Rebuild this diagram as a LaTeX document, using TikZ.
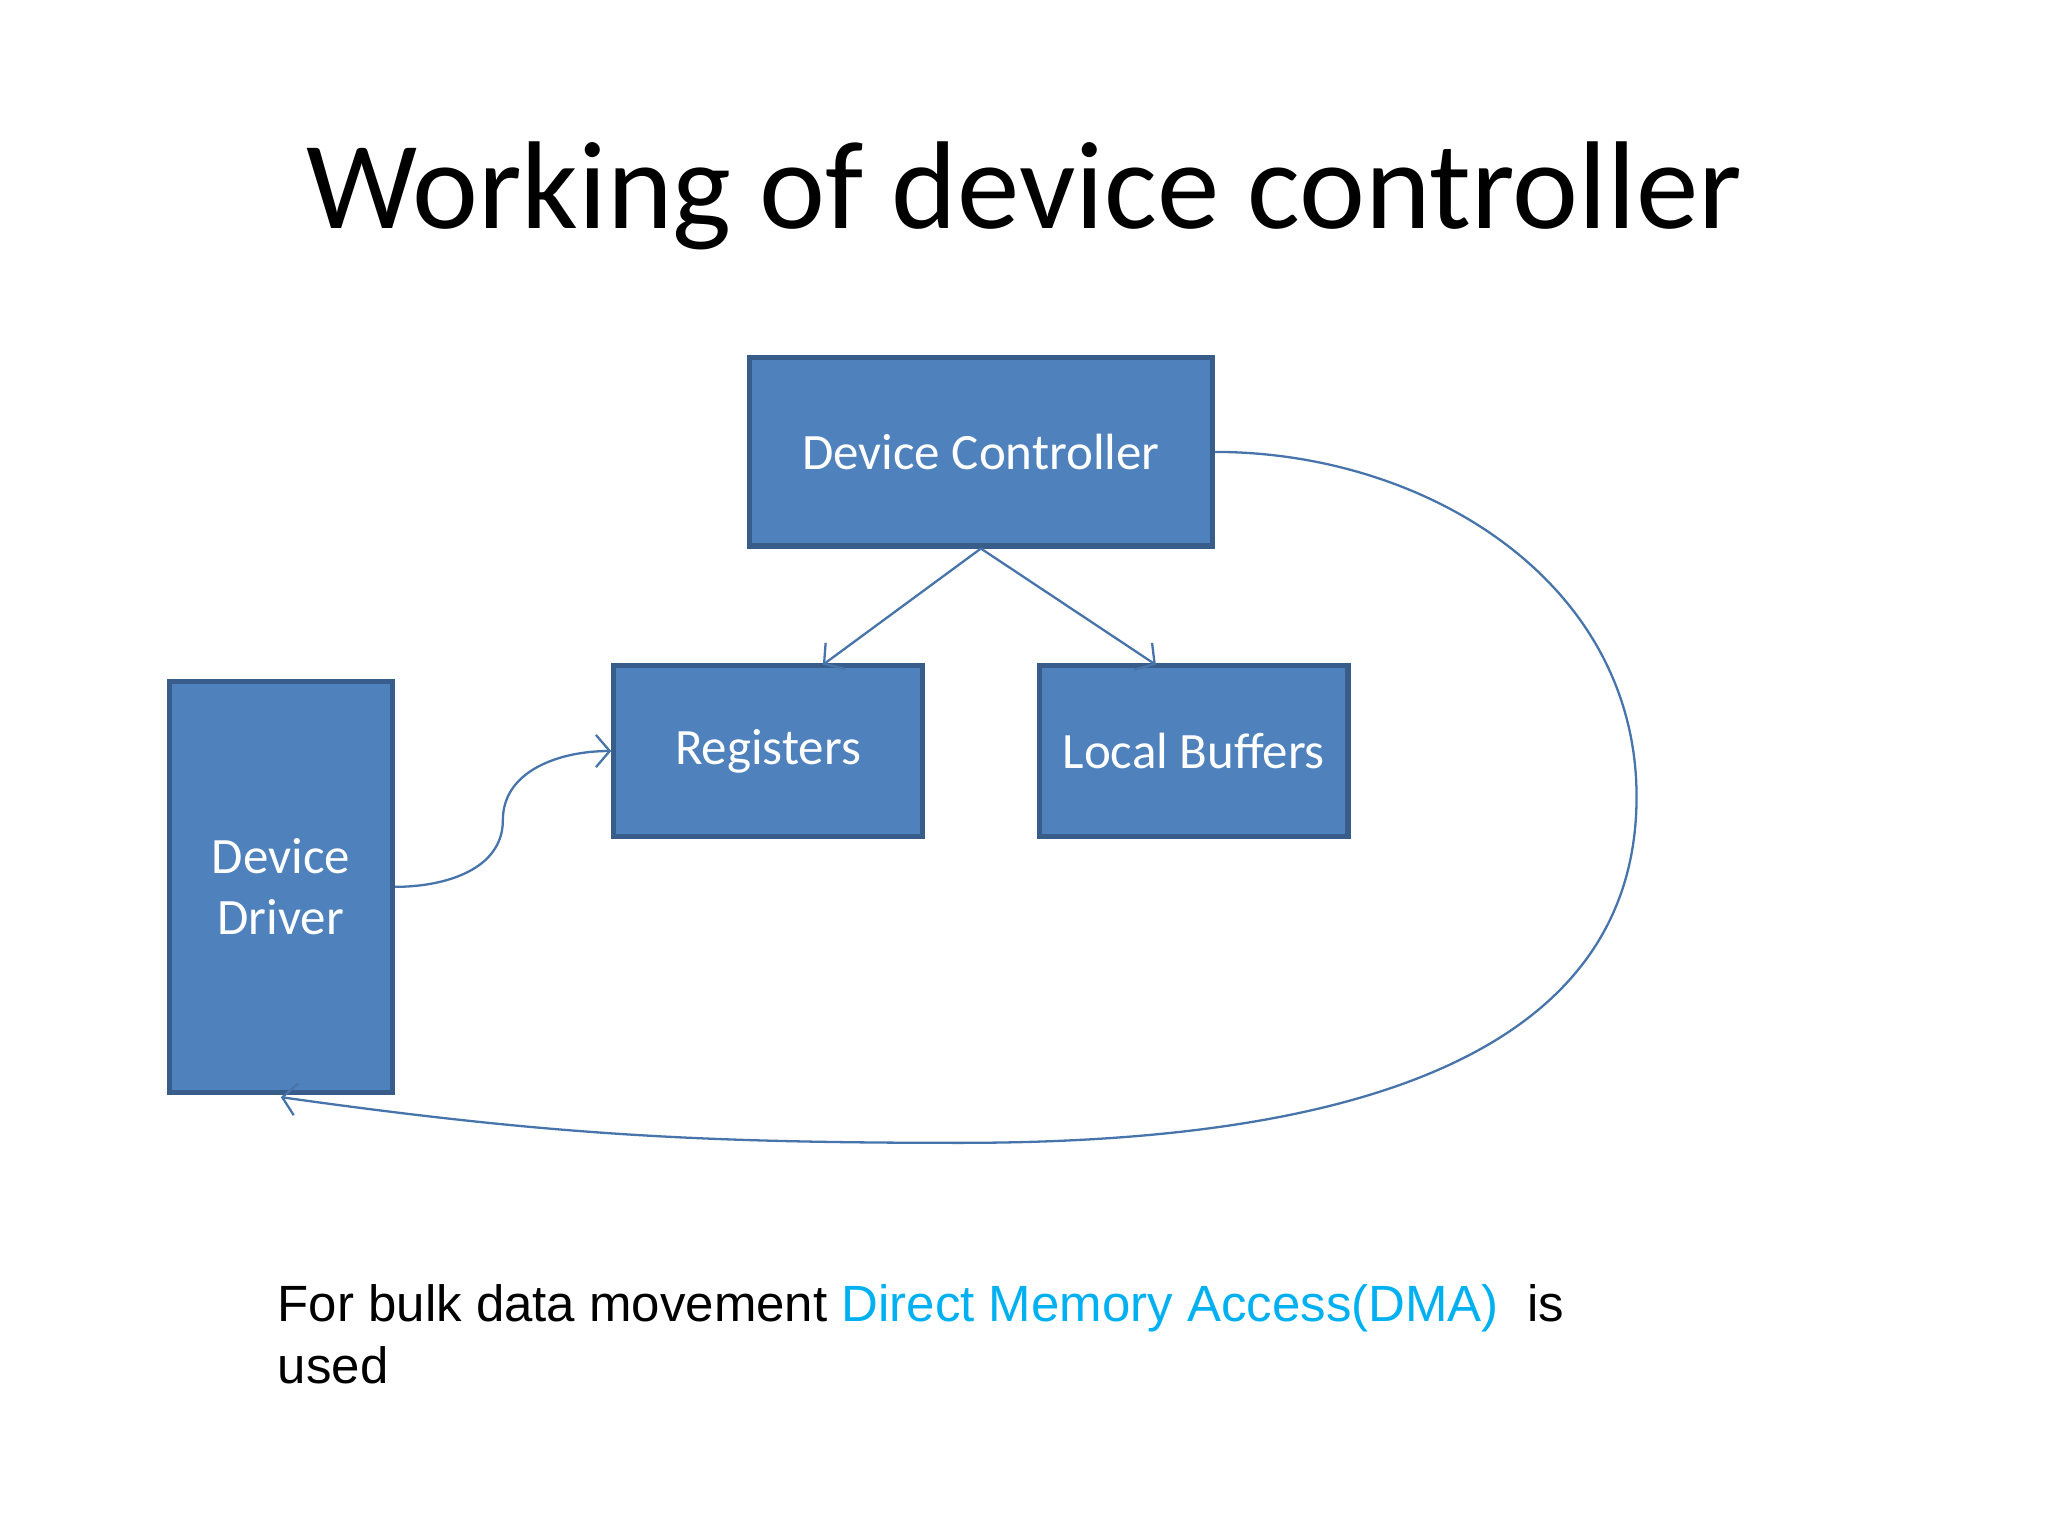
\documentclass[tikz,border=0pt]{standalone}
\usepackage{fontspec}
\setmainfont{Carlito}
\newfontfamily\arialfont{Liberation Sans}
\usetikzlibrary{positioning,arrows.meta}
\definecolor{boxfill}{HTML}{4F81BD}
\definecolor{boxline}{HTML}{385D8A}
\definecolor{dmablue}{HTML}{00B0F0}
\tikzset{
  blockbox/.style={draw=boxline, line width=1.1pt, fill=boxfill, text=white,
    font=\fontsize{11.1}{13.3}\selectfont, align=center, inner sep=0pt},
  link/.style={draw=boxfill!90!black, line width=0.5pt, ->, >={Straight Barb[length=3pt,width=7pt]}}
}
\begin{document}
\begin{tikzpicture}[x=0.01cm, y=-0.01cm]
    \useasboundingbox (0,0) rectangle (1568,1176);
    
    \node[font=\fontsize{27.2}{32}\selectfont] (title) at (784,150) {Working of device controller};
    
    \node[blockbox, minimum width=3.54cm, minimum height=1.44cm] (ctrl) at (751,346) {Device Controller};
    \node[blockbox, minimum width=2.36cm, minimum height=1.31cm] (regs) at (588,575) {Registers};
    \node[blockbox, minimum width=2.36cm, minimum height=1.31cm] (bufs) at (914,575) {Local Buffers};
    \node[blockbox, minimum width=1.71cm, minimum height=3.14cm] (drv) at (215,679) {Device\\Driver};
    
    \coordinate (regtop) at (630,509);
    \coordinate (buftop) at (885,509);
    \coordinate (drvbot) at (215,840);
    
    \draw[link] (ctrl.south) -- (regtop);
    \draw[link] (ctrl.south) -- (buftop);
    \draw[link] (drv.east) to [out=0, in=-90] (385,628) to [out=90, in=180] (regs.west);
    \draw[link] (ctrl.east) to [out=0, in=90] (1253,610) to [out=-90, in=0] (735,875) to [out=180, in=-8] (drvbot);
    
    \node[anchor=north west, align=left, inner sep=0pt, font=\arialfont\fontsize{11.1}{13.4}\selectfont] (note) at (212,983)
        {For bulk data movement \textcolor{dmablue}{Direct Memory Access(DMA)}\ \ is\\used};
\end{tikzpicture}
\end{document}
